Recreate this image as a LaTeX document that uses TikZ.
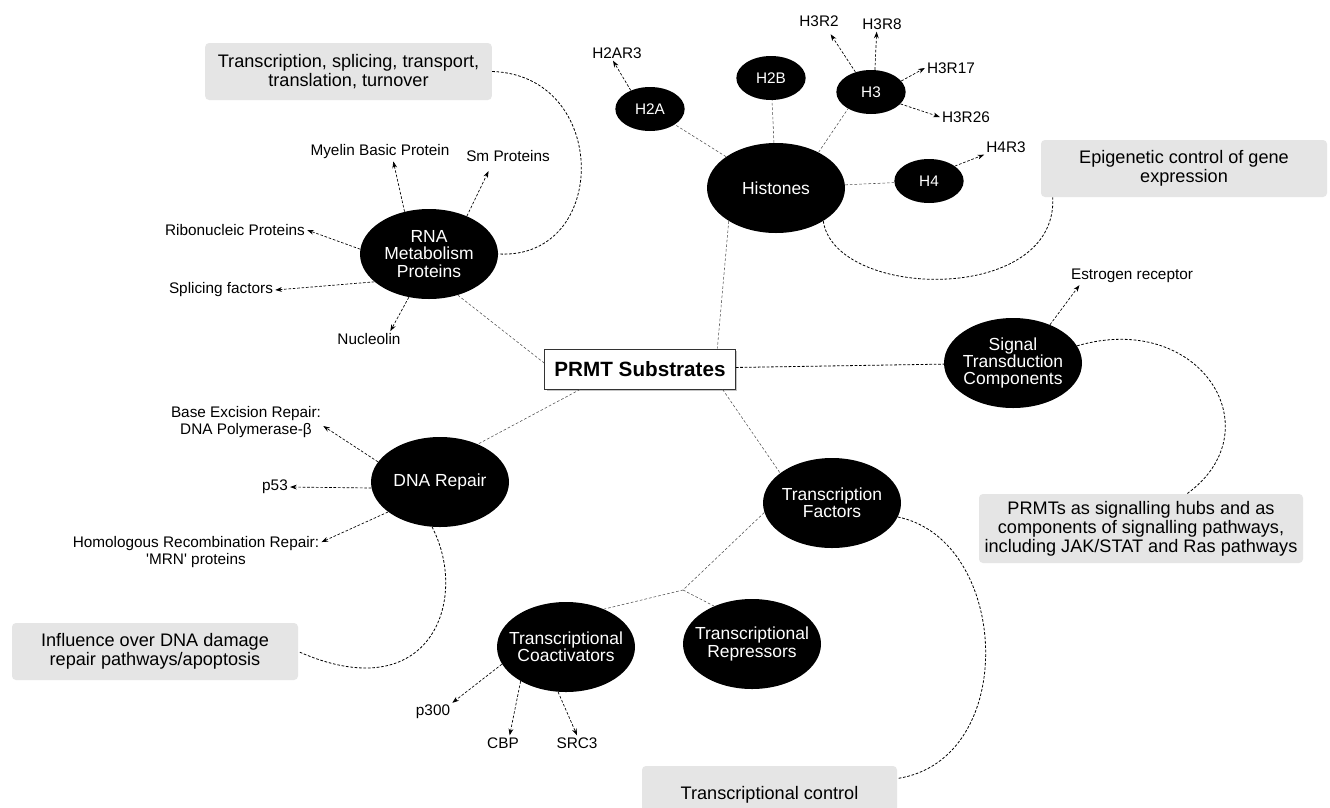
\documentclass[tikz,border=0pt]{standalone}
\usepackage{fontspec}
\setmainfont{Liberation Sans}
\usetikzlibrary{shapes.geometric,arrows.meta,shadows}

\tikzset{
  blob/.style={ellipse, fill=black, text=white, inner sep=-8pt, minimum width=103.5pt, minimum height=67.5pt, align=center, font=\fontsize{13.1}{13.1}\selectfont},
  miniblob/.style={ellipse, fill=black, text=white, inner sep=-4pt, minimum width=52pt, minimum height=33pt, font=\fontsize{11.5}{12}\selectfont},
  tag/.style={inner sep=1.5pt, align=center, font=\fontsize{11.5}{12.75}\selectfont},
  note/.style={fill=black!10, rounded corners=3pt, align=center, inner sep=0pt, font=\fontsize{13.6}{14.3}\selectfont},
  hub/.style={draw=black!80, line width=0.75pt, fill=white, minimum width=143pt, minimum height=30pt, font=\fontsize{15.5}{16}\selectfont\bfseries, drop shadow={shadow xshift=1.5pt, shadow yshift=-1.5pt, fill=black!45}},
  link/.style={draw=black!70, line width=0.4pt, dash pattern=on 2pt off 1.5pt},
  arr/.style={line width=0.5pt, dash pattern=on 2pt off 1.3pt, -{Stealth[length=5pt,width=3.6pt]}},
  swing/.style={line width=0.6pt, dash pattern=on 2pt off 1.3pt}
}

\begin{document}
\begin{tikzpicture}[x=0.75pt,y=-0.75pt]
\clip (0,0) rectangle (1330,807);
\fill[white] (0,0) rectangle (1330,807);

\node[hub] (prmt) at (640,369) {PRMT Substrates};

\node[blob] (hist) at (776,188) {Histones};
\node[miniblob] (h2a) at (650,109) {H2A};
\node[miniblob] (h2b) at (771,78) {H2B};
\node[miniblob] (h3) at (871,92) {H3};
\node[miniblob] (h4) at (929,181) {H4};
\node[blob] (rna) at (429,254) {RNA\\Metabolism\\Proteins};
\node[blob] (dna) at (440,482) {DNA Repair};
\node[blob] (sig) at (1013,363) {Signal\\Transduction\\Components};
\node[blob] (tf) at (832,503) {Transcription\\Factors};
\node[blob] (coact) at (566,647) {Transcriptional\\Coactivators};
\node[blob] (repr) at (752,644) {Transcriptional\\Repressors};
\coordinate (fork) at (683,590);

\node[tag] (h2ar3) at (617,53) {H2AR3};
\node[tag] (h3r2) at (819,21) {H3R2};
\node[tag] (h3r8) at (882,24) {H3R8};
\node[tag] (h3r17) at (951,68) {H3R17};
\node[tag] (h3r26) at (966,117) {H3R26};
\node[tag] (h4r3) at (1006,147) {H4R3};
\node[tag] (mbp) at (380,152) {Myelin Basic Protein};
\node[tag] (smp) at (508,156) {Sm Proteins};
\node[tag] (rnp) at (235,230) {Ribonucleic Proteins};
\node[tag] (spl) at (221,290) {Splicing factors};
\node[tag] (nuc) at (369,339) {Nucleolin};
\node[tag] (ber) at (246,422) {Base Excision Repair:\\DNA Polymerase-β};
\node[tag] (p53) at (275,487) {p53};
\node[tag] (hrr) at (196,552) {Homologous Recombination Repair:\\\textquotesingle MRN\textquotesingle{} proteins};
\node[tag] (p300) at (433,712) {p300};
\node[tag] (cbp) at (503,743) {CBP};
\node[tag] (src) at (577,743) {SRC3};
\node[tag] (esr) at (1132,276) {Estrogen receptor};

\node[note, minimum width=215pt, minimum height=42.75pt] (tbox) at (348.5,71.5) {Transcription, splicing, transport,\\translation, turnover};
\node[note, minimum width=214.5pt, minimum height=42.75pt] (ebox) at (1184,168.5) {Epigenetic control of gene\\expression};
\node[note, minimum width=243pt, minimum height=51.75pt] (sbox) at (1141,528.5) {PRMTs as signalling hubs and as\\components of signalling pathways,\\including JAK/STAT and Ras pathways};
\node[note, minimum width=214.5pt, minimum height=42.75pt] (dbox) at (155,651.5) {Influence over DNA damage\\repair pathways/apoptosis};
\node[note, minimum width=191.25pt, minimum height=42.75pt] (cbox) at (769.5,794.5) {Transcriptional control};

\draw[link] (hist.215) -- ([xshift=58pt]prmt.north);
\draw[link] (hist) -- (h2a);
\draw[link] (hist) -- (h2b);
\draw[link] (hist.40) -- (h3.216);
\draw[link] (hist) -- (h4);
\draw[link] (rna.-55) -- ([yshift=4.5pt]prmt.west);
\draw[link] ([xshift=-45pt]prmt.south) -- (dna.45);
\draw[link] ([xshift=62pt]prmt.south) -- (tf.150);
\draw[swing] (prmt) -- (sig);
\draw[link] (tf.188) -- (fork) -- (coact.45);
\draw[link] (fork) -- (repr.135);

\draw[arr] (h2a.136) -- ([xshift=-3pt]h2ar3.south);
\draw[arr, shorten >=5pt] (h3.128) -- ([xshift=6pt]h3r2.south);
\draw[arr] (h3.80) -- ([xshift=-4pt]h3r8.south);
\draw[arr] (h3.20) -- (h3r17.west);
\draw[arr] (h3.-22) -- (h3r26.west);
\draw[arr] (h4.30) -- (h4r3.south west);
\draw[arr] (rna.120) -- ([xshift=10pt]mbp.south);
\draw[arr, shorten >=6pt] (rna.45) -- ([xshift=-12pt]smp.south);
\draw[arr] (rna.176) -- (rnp.east);
\draw[arr] (rna.207) -- (spl.east);
\draw[arr] (rna.245) -- ([xshift=16pt]nuc.north);
\draw[arr] (dna.162) -- ([yshift=-3pt]ber.east);
\draw[arr] (dna.185) -- (p53.east);
\draw[arr] (dna.210) -- ([yshift=-6pt]hrr.north east);
\draw[arr] (coact.195) -- (p300.north east);
\draw[arr] (coact.217) -- ([xshift=5pt]cbp.north);
\draw[arr] (coact.260) -- (src.north);
\draw[arr] (sig.46) -- ([xshift=8pt]esr.south west);

\draw[swing] (tbox.east) .. controls (610,75) and (610,260) .. (rna.east);
\draw[swing] (hist.325) .. controls (835,300) and (1058,305) .. ([xshift=9pt]ebox.south west);
\draw[swing] (sig.15) .. controls (1200,310) and (1275,430) .. ([xshift=34.5pt]sbox.north);
\draw[swing] (tf.348) .. controls (1010,540) and (1020,760) .. ([yshift=12pt]cbox.east);
\draw[swing] (dna.260) .. controls (470,600) and (430,710) .. (dbox.east);
\end{tikzpicture}
\end{document}
